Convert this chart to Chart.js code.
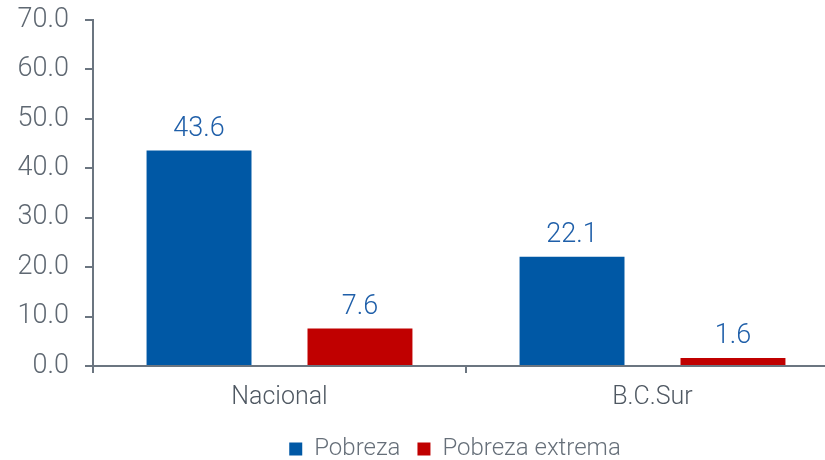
<!DOCTYPE html>
<html lang="es">
<head>
  <meta charset="UTF-8">
  <title>Pobreza</title>
  <script src="https://cdn.jsdelivr.net/npm/chart.js"></script>
  <style>
    html, body { margin: 0; padding: 0; background: #fff; overflow: hidden; }
    #wrap { width: 840px; height: 460px; }
  </style>
</head>
<body>
  <div id="wrap">
    <canvas id="grafica" width="840" height="460"></canvas>
  </div>

  <script>
    // Datos
    const categorias = ['Nacional', 'B.C.Sur'];
    const pobreza = [43.6, 22.1];
    const pobrezaExtrema = [7.6, 1.6];
    const etiquetasSeries = ['Pobreza', 'Pobreza extrema'];
    const ejeY = { min: 0, max: 70, paso: 10 };

    const fuente = 'Roboto, "Liberation Sans", Arial, sans-serif';
    const colorEje = '#6b7580';

    // Etiquetas de valor sobre las barras
    const etiquetasValor = {
      id: 'etiquetasValor',
      afterDatasetsDraw(chart) {
        const ctx = chart.ctx;
        ctx.save();
        ctx.font = '300 27px ' + fuente;
        ctx.fillStyle = '#1f5fa9';
        ctx.textAlign = 'center';
        ctx.textBaseline = 'bottom';
        chart.data.datasets.forEach((ds, i) => {
          chart.getDatasetMeta(i).data.forEach((bar, j) => {
            ctx.fillText(ds.data[j].toFixed(1), bar.x, bar.y - 8);
          });
        });
        ctx.restore();
      }
    };

    // Altura y posicion fija de la leyenda
    const leyendaFija = {
      id: 'leyendaFija',
      afterInit(chart) {
        const lg = chart.legend;
        if (!lg) return;
        const fitOrig = lg.fit.bind(lg);
        lg.fit = function () { fitOrig(); this.height = 46; };
      },
      afterLayout(chart) {
        const lg = chart.legend;
        if (!lg) return;
        lg.left = 66;
        lg.right = 844;
        lg.top = 460 - 46 + 6;
        lg.bottom = lg.top + 46;
      }
    };

    new Chart(document.getElementById('grafica'), {
      type: 'bar',
      data: {
        labels: categorias,
        datasets: [
          {
            label: etiquetasSeries[0],
            data: pobreza,
            backgroundColor: '#0058a5',
            categoryPercentage: 0.863,
            barPercentage: 0.652
          },
          {
            label: etiquetasSeries[1],
            data: pobrezaExtrema,
            backgroundColor: '#c00000',
            categoryPercentage: 0.863,
            barPercentage: 0.652
          }
        ]
      },
      options: {
        responsive: false,
        animation: false,
        layout: { padding: { top: 20, right: 1, left: 0, bottom: 0 } },
        scales: {
          x: {
            grid: {
              display: true,
              drawOnChartArea: false,
              drawTicks: true,
              tickLength: 7,
              color: colorEje,
              lineWidth: 2
            },
            border: { display: true, color: colorEje, width: 2 },
            ticks: {
              color: '#4f5862',
              padding: 10,
              font: { family: fuente, size: 25, weight: '300' }
            },
            afterFit(s) { s.height = 48; }
          },
          y: {
            min: ejeY.min,
            max: ejeY.max,
            grid: {
              display: true,
              drawOnChartArea: false,
              drawTicks: true,
              tickLength: 8,
              color: colorEje,
              lineWidth: 2
            },
            border: { display: true, color: colorEje, width: 2 },
            ticks: {
              stepSize: ejeY.paso,
              color: '#5f6872',
              padding: 16,
              font: { family: fuente, size: 27, weight: '300' },
              callback: v => Number(v).toFixed(1)
            },
            afterFit(s) {
              s.width = 93;
              s.paddingTop = 10;
              s.paddingBottom = 10;
            }
          }
        },
        plugins: {
          legend: {
            position: 'bottom',
            labels: {
              boxWidth: 13,
              boxHeight: 13,
              padding: 17,
              color: '#666f79',
              font: { family: fuente, size: 24, weight: '300' }
            }
          },
          tooltip: { enabled: false }
        }
      },
      plugins: [etiquetasValor, leyendaFija]
    });
  </script>
</body>
</html>
